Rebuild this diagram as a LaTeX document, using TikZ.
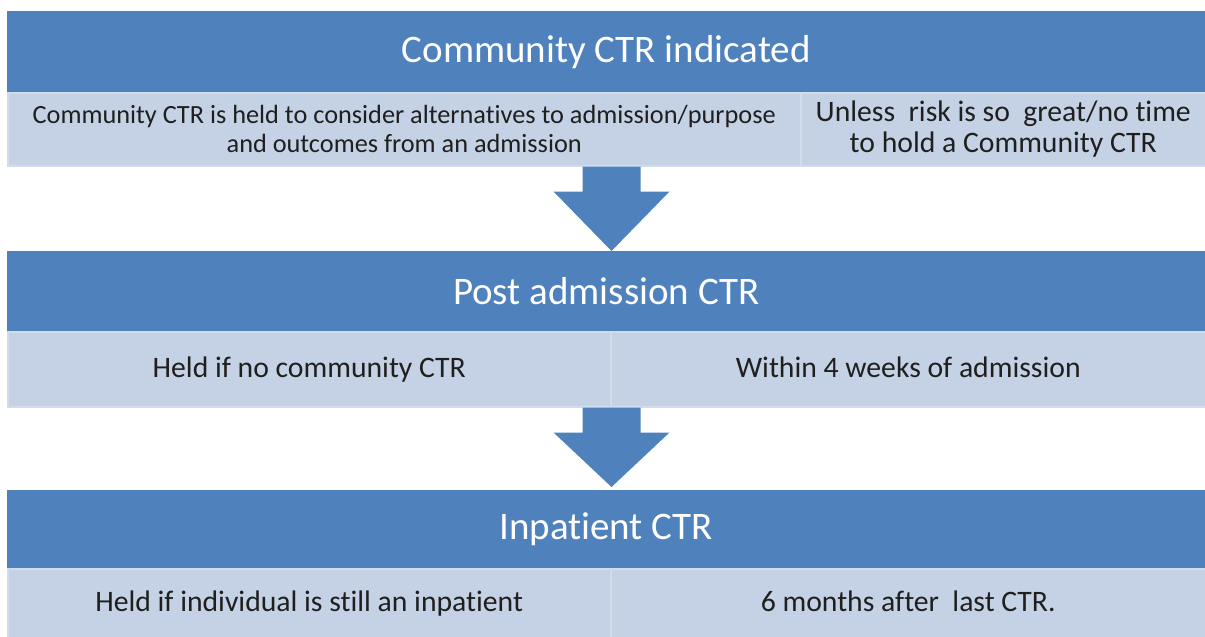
\documentclass[tikz,border=0pt]{standalone}
\usepackage{fontspec}
\setmainfont{Carlito}[Ligatures=CommonOff]
\usetikzlibrary{calc}
\definecolor{bandblue}{HTML}{4F81BD}
\definecolor{celllight}{HTML}{C5D1E5}
\definecolor{cellline}{HTML}{D3DCEB}
\newcommand\blockarrow[2]{\fill[bandblue] ($(#1)+(-29,0)$) -- ($(#1)+(29,0)$) -- ($(#1)+(29,25)$) -- ($(#1)+(58,25)$) -- (#2) -- ($(#1)+(-58,25)$) -- ($(#1)+(-29,25)$) -- cycle;}
\begin{document}
\begin{tikzpicture}[x=1pt, y=-1pt,
  head/.style={anchor=north west, inner sep=0pt, fill=bandblue, text=white, minimum width=1198pt, font=\fontsize{39}{44}\selectfont},
  cell/.style={anchor=north west, inner sep=0pt, fill=celllight, draw=cellline, line width=1.5pt, text=black!88, align=center, font=\fontsize{29.7}{31}\selectfont},
  linecell/.style={cell, text height=20pt, text depth=3pt},
  smallcell/.style={cell, font=\fontsize{26.3}{29}\selectfont}]
\useasboundingbox (0,0) rectangle (1205,637);
\node[head, minimum height=81pt] (h1) at (7,11) {Community CTR indicated};
\node[smallcell, minimum width=793pt, minimum height=73pt] (c1l) at (7,92) {Community CTR is held to consider alternatives to admission/purpose\\and outcomes from an admission};
\node[cell, minimum width=405pt, minimum height=73pt] (c1r) at (800,92) {Unless\ \ risk is so\ \ great/no time\\to hold a Community CTR};
\node[head, minimum height=80pt] (h2) at (7,251) {Post admission CTR};
\node[linecell, minimum width=603pt, minimum height=75pt] (c2l) at (7,331) {Held if no community CTR};
\node[linecell, minimum width=595pt, minimum height=75pt] (c2r) at (610,331) {Within 4 weeks of admission};
\node[head, minimum height=78pt] (h3) at (7,490) {Inpatient CTR};
\node[linecell, minimum width=603pt, minimum height=69pt] (c3l) at (7,568) {Held if individual is still an inpatient};
\node[linecell, minimum width=595pt, minimum height=69pt] (c3r) at (610,568) {6 months after\ \ last CTR.};
\coordinate (a1top) at (c2l.north east |- c1l.south);
\coordinate (a1tip) at (c2l.north east |- h2.north);
\coordinate (a2top) at (c2l.south east);
\coordinate (a2tip) at ($(c2l.south east |- h3.north)+(0,-3)$);
\blockarrow{a1top}{a1tip}
\blockarrow{a2top}{a2tip}
\end{tikzpicture}
\end{document}
